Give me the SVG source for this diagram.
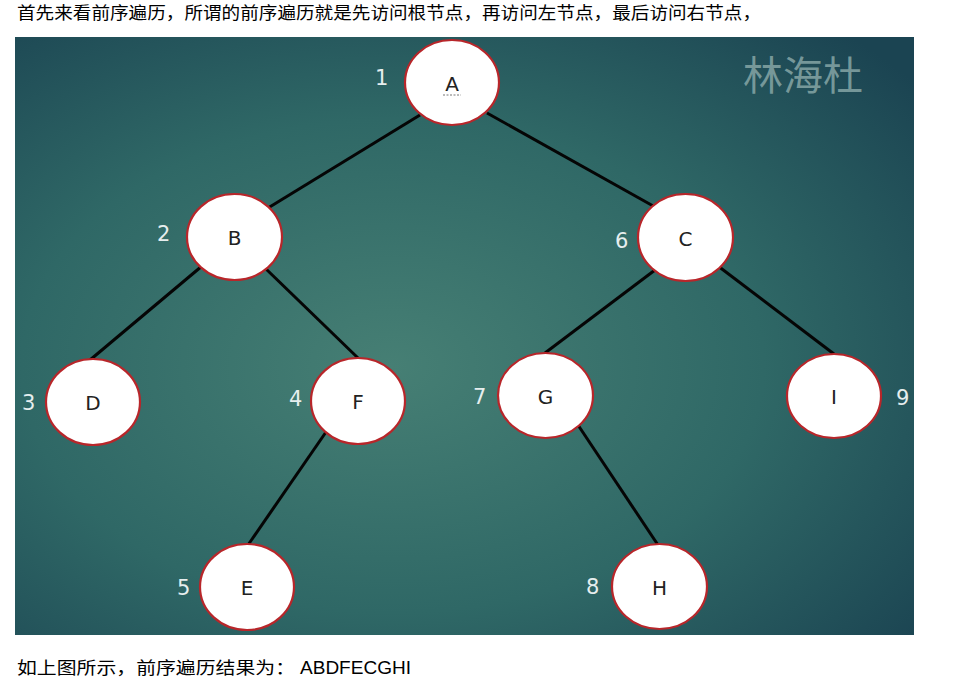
<svg xmlns="http://www.w3.org/2000/svg" width="963" height="691" viewBox="0 0 963 691">
<defs>
<radialGradient id="bg" cx="0.42" cy="0.55" r="0.75" fx="0.42" fy="0.55">
<stop offset="0" stop-color="#467f74"/>
<stop offset="0.55" stop-color="#2f6866"/>
<stop offset="1" stop-color="#1b4452"/>
</radialGradient>
<style>
.cap{font-family:"Noto Sans CJK SC","Liberation Sans",sans-serif;font-size:17px;fill:#000}
.node ellipse{fill:#ffffff;stroke:#b8262a;stroke-width:2.2}
.node text{font-family:"DejaVu Sans","Liberation Sans",sans-serif;font-size:20px;fill:#222;text-anchor:middle}
.num{font-family:"DejaVu Sans","Liberation Sans",sans-serif;font-size:21px;fill:#e6eeee}
.edges line{stroke:#050505;stroke-width:3}
</style>
</defs>
<rect width="963" height="691" fill="#ffffff"/>
<text class="cap" x="17" y="19" textLength="744" lengthAdjust="spacingAndGlyphs">首先来看前序遍历，所谓的前序遍历就是先访问根节点，再访问左节点，最后访问右节点，</text>
<rect x="15" y="37" width="899" height="598" fill="url(#bg)"/>
<text x="743" y="90" font-family="Noto Sans CJK SC,sans-serif" font-size="40" fill="#86a6a6" fill-opacity="0.85">林海杜</text>
<g class="edges">
<line x1="420" y1="115" x2="268" y2="208"/>
<line x1="487" y1="113" x2="655" y2="207"/>
<line x1="202" y1="266" x2="90" y2="360"/>
<line x1="265" y1="268" x2="358" y2="358"/>
<line x1="655" y1="270" x2="545" y2="353"/>
<line x1="718" y1="266" x2="834" y2="354"/>
<line x1="326" y1="432" x2="248" y2="545"/>
<line x1="578" y1="425" x2="658" y2="545"/>
</g>
<g id="nA" class="node"><ellipse cx="452" cy="82.5" rx="47" ry="42.5"/><text x="452" y="91">A</text><line x1="443" y1="95" x2="461" y2="95" stroke="#777" stroke-width="1" stroke-dasharray="2,1.5"/></g>
<g id="nB" class="node"><ellipse cx="234.5" cy="237" rx="47.5" ry="43"/><text x="234.5" y="245">B</text></g>
<g id="nC" class="node"><ellipse cx="685.5" cy="237.5" rx="47.5" ry="43.5"/><text x="685.5" y="246">C</text></g>
<g id="nD" class="node"><ellipse cx="93" cy="402" rx="47" ry="43"/><text x="93" y="410">D</text></g>
<g id="nF" class="node"><ellipse cx="358" cy="401" rx="47" ry="43"/><text x="358" y="409">F</text></g>
<g id="nG" class="node"><ellipse cx="545.5" cy="395.5" rx="47.5" ry="42.5"/><text x="545.5" y="404">G</text></g>
<g id="nI" class="node"><ellipse cx="834" cy="396" rx="47" ry="42"/><text x="834" y="404">I</text></g>
<g id="nE" class="node"><ellipse cx="247" cy="587" rx="47" ry="43"/><text x="247" y="595">E</text></g>
<g id="nH" class="node"><ellipse cx="659.5" cy="586.5" rx="47.5" ry="42.5"/><text x="659.5" y="595">H</text></g>
<text class="num" x="375" y="85">1</text>
<text class="num" x="157" y="241">2</text>
<text class="num" x="22" y="410">3</text>
<text class="num" x="289" y="406">4</text>
<text class="num" x="177" y="595">5</text>
<text class="num" x="615" y="248">6</text>
<text class="num" x="473" y="404">7</text>
<text class="num" x="586" y="594">8</text>
<text class="num" x="896" y="405">9</text>
<text class="cap" x="17" y="674" font-size="18" textLength="278" lengthAdjust="spacingAndGlyphs">如上图所示，前序遍历结果为：</text>
<text x="300" y="674" font-family="Liberation Sans,sans-serif" font-size="19" textLength="111" lengthAdjust="spacingAndGlyphs">ABDFECGHI</text>
</svg>
